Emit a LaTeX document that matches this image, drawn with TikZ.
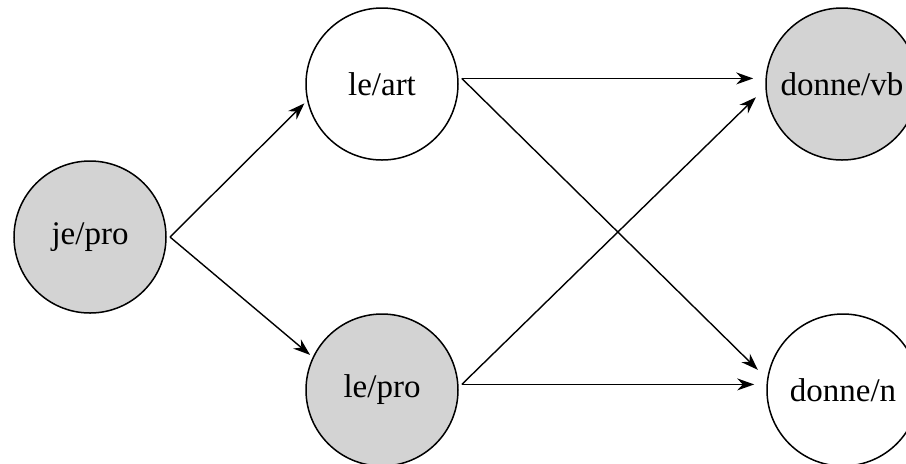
\documentclass[tikz,border=0pt]{standalone}
\usepackage{fontspec}
\setmainfont{Liberation Serif}
\usepackage{tikz}
\usetikzlibrary{arrows.meta}
\definecolor{taggray}{RGB}{211,211,211}
\tikzstyle{word} = [circle, minimum size=76pt, inner sep=0pt, outer sep=2pt, line width=0.75pt, draw=black, font=\fontsize{16.5}{20}\selectfont]
\tikzstyle{ambig} = [word, fill=taggray]
\tikzstyle{connect} = [line width=0.7pt, -{Stealth[length=8.5pt,width=6pt]}]
\tikzstyle{gapped} = [shorten >=4.5pt]

\begin{document}
\begin{tikzpicture}[x=0.5pt,y=-0.5pt]
			\useasboundingbox (0,0) rectangle (906,463);
			\clip (0,0) rectangle (906,463);
			\node (jepro) [ambig] at (90,237) {je/pro};
			\node (leart) [word] at (382,84) {le/art};
			\node (lepro) [ambig] at (382,390) {le/pro};
			\node (donnevb) [ambig] at (842,84) {donne/vb};
			\node (donnen) [word] at (843,390) {donne/n};
			%-----------------------------------------------
			%-----------------------------------------------
			\draw [connect] (jepro.east) -- (leart.194);
			\draw [connect] (jepro.east) -- (lepro.154);
			\draw [connect,gapped] (leart.4) -- (donnevb.176);
			\draw [connect,gapped] (leart.4) -- (donnen.170);
			\draw [connect,gapped] (lepro.4) -- (donnevb.185);
			\draw [connect,gapped] (lepro.4) -- (donnen.176);
			\end{tikzpicture}
\end{document}
